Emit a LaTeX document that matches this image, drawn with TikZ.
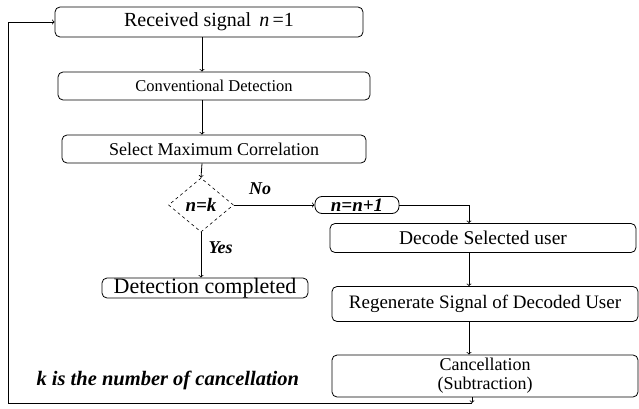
\documentclass[tikz,border=0pt]{standalone}
\usepackage{fontspec}
\setmainfont{Liberation Serif}
\usetikzlibrary{shapes.geometric}
\begin{document}
\begin{tikzpicture}[x=1pt,y=-1pt,
  box/.style={draw,rounded corners=5pt,line width=0.8pt,inner sep=0pt,anchor=center},
  arr/.style={->,line width=0.8pt},
  lab/.style={font=\bfseries\itshape\fontsize{18}{20}\selectfont}]
\useasboundingbox (0,0) rectangle (639,409);
\node[box,minimum width=308pt,minimum height=30pt,font=\fontsize{20}{22}\selectfont] (rec) at (209,22) {Received signal\hspace{8pt}\textit{n}\,=1};
\node[box,minimum width=312pt,minimum height=28pt,font=\fontsize{16.5}{18}\selectfont] (conv) at (214,86) {Conventional Detection};
\node[box,minimum width=304pt,minimum height=28pt,font=\fontsize{18}{20}\selectfont] (sel) at (214,149) {Select Maximum Correlation};
\node[draw,dashed,diamond,line width=0.6pt,minimum width=65pt,minimum height=54pt,inner sep=0pt,font=\bfseries\itshape\fontsize{19}{21}\selectfont] (dia) at (201,205) {n=k};
\node[box,rounded corners=7pt,minimum width=84pt,minimum height=17pt,font=\bfseries\itshape\fontsize{19}{20}\selectfont] (nn) at (357,205) {n=n+1};
\node[box,minimum width=206pt,minimum height=20pt,font=\fontsize{22}{24}\selectfont] (dc) at (205,288) {Detection completed};
\node[box,minimum width=306pt,minimum height=29pt,font=\fontsize{19.5}{21}\selectfont] (dec) at (483,238) {Decode Selected user};
\node[box,minimum width=306pt,minimum height=35pt,font=\fontsize{19}{21}\selectfont] (reg) at (485,304) {Regenerate Signal of Decoded User};
\node[box,minimum width=306pt,minimum height=42pt,align=center,font=\fontsize{18}{19}\selectfont] (can) at (485,376) {Cancellation\\(Subtraction)};
\node[lab,anchor=west,font=\bfseries\itshape\fontsize{20.5}{22}\selectfont] (note) at (33,380) {k is the number of cancellation};
\node[lab,anchor=south] (no) at (260,198) {No};
\node[lab,anchor=west] (yes) at (205,248) {Yes};
\coordinate (col) at (202,0);
\coordinate (rc) at (469,0);
\coordinate (bot) at (472,403);
\coordinate (lft) at (8,403);
\draw[arr] (rec.south -| col) -- (conv.north -| col);
\draw[arr] (conv.south -| col) -- (sel.north -| col);
\draw[arr] (sel.south -| col) -- (dia.north);
\draw[arr] (dia.south) -- (dc.north -| dia);
\draw[arr] (dia.east) -- (nn.west);
\draw[arr] (nn.east) -| (dec.north -| rc);
\draw[arr] (dec.south -| rc) -- (reg.north -| rc);
\draw[arr] (reg.south -| rc) -- (can.north -| rc);
\draw[arr] (can.south -| bot) -- (bot);
\draw[arr] (bot) -- (lft) |- (rec.west);
\end{tikzpicture}
\end{document}
